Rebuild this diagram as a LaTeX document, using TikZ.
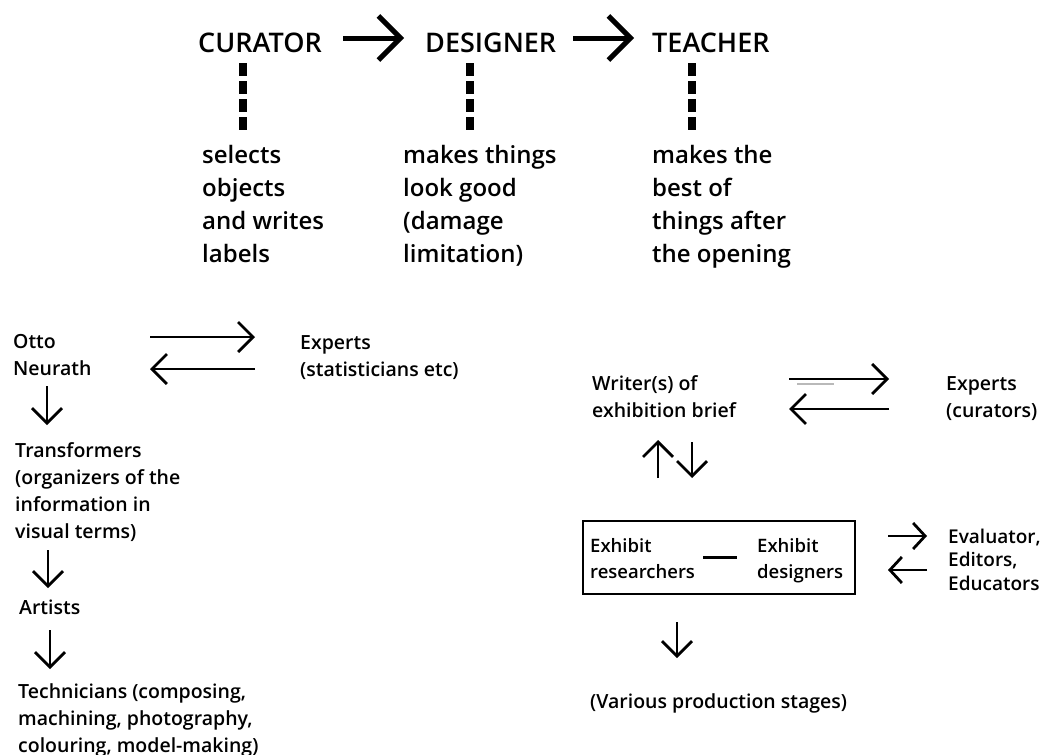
\documentclass[tikz,border=0pt]{standalone}
\usepackage{fontspec}
\setmainfont{Open Sans}
% medium-weight face for all text, with bold as a fallback
\IfFontExistsTF{Open Sans SemiBold}{\newfontfamily\semifont{Open Sans SemiBold}}{%
  \IfFontExistsTF{Open Sans Semibold}{\newfontfamily\semifont{Open Sans Semibold}}{%
    \IfFontExistsTF{OpenSans-Semibold.otf}{\newfontfamily\semifont{OpenSans-Semibold.otf}}{%
      \newcommand{\semifont}{\bfseries}}}}
\usetikzlibrary{arrows.meta}

% first line of a text block sits 1em below the node's top edge
\newcommand{\firstline}{\rule{0pt}{1em}}

\begin{document}
\begin{tikzpicture}[x=1pt, y=-1pt,
  role/.style={inner sep=0pt, anchor=base west, font=\semifont\fontsize{27}{32}\selectfont},
  duty/.style={inner sep=0pt, anchor=north west, align=left, font=\semifont\fontsize{24}{33}\selectfont},
  body/.style={inner sep=0pt, anchor=north west, align=left, font=\semifont\fontsize{19.5}{27}\selectfont},
  boxtext/.style={inner sep=0pt, anchor=north west, align=left, font=\semifont\fontsize{18.5}{26}\selectfont},
  listtext/.style={inner sep=0pt, anchor=north west, align=left, font=\semifont\fontsize{19}{23.5}\selectfont},
  bigarrow/.style={line width=5pt, -{Straight Barb[length=22pt, width=44pt, line width=5pt]}},
  flow/.style={line width=2.8pt, -{Straight Barb[length=15pt, width=30pt, line width=2.8pt]}},
  smallflow/.style={line width=2.8pt, -{Straight Barb[length=12pt, width=26pt, line width=2.8pt]}},
  tie/.style={line width=8pt, dash pattern=on 13pt off 5pt},
]
\useasboundingbox (0,0) rectangle (1042,755);

% ---- the three roles ----
\node[role] (cur) at (198,52) {CURATOR};
\node[role] (des) at (425,52) {DESIGNER};
\node[role] (tea) at (652,52) {TEACHER};

\coordinate (a1s) at (343,38); \coordinate (a1e) at (404,38);
\coordinate (a2s) at (573,38); \coordinate (a2e) at (634,38);
\draw[bigarrow] (a1s) -- (a1e);
\draw[bigarrow] (a2s) -- (a2e);

\coordinate (t1a) at (243,63); \coordinate (t1b) at (243,130);
\coordinate (t2a) at (470,63); \coordinate (t2b) at (470,130);
\coordinate (t3a) at (692,63); \coordinate (t3b) at (692,130);
\draw[tie] (t1a) -- (t1b);
\draw[tie] (t2a) -- (t2b);
\draw[tie] (t3a) -- (t3b);

\node[duty] (dcur) at (202,139) {\firstline selects\\objects\\and writes\\labels};
\node[duty] (ddes) at (403,139) {\firstline makes things\\look good\\(damage\\limitation)};
\node[duty] (dtea) at (652,139) {\firstline makes the\\best of\\things after\\the opening};

% ---- Neurath's chain ----
\node[body] (otto)  at (13,328.5)  {\firstline Otto\\Neurath};
\node[body] (exp1)  at (300,329.5) {\firstline Experts\\(statisticians etc)};
\node[body] (trans) at (15,437.5)  {\firstline Transformers\\(organizers of the\\information in\\visual terms)};
\node[body] (art)   at (19,594.5)  {\firstline Artists};
\node[body] (tech)  at (18,678.5)  {\firstline Technicians (composing,\\machining, photography,\\colouring, model-making)};

\coordinate (o1) at (150,337); \coordinate (e1) at (255,337);
\coordinate (o2) at (150,369); \coordinate (e2) at (255,369);
\draw[flow] (o1) -- (e1);
\draw[flow] (e2) -- (o2);

\coordinate (n1a) at (47,386); \coordinate (n1b) at (47,425);
\coordinate (n2a) at (48,550); \coordinate (n2b) at (48,588);
\coordinate (n3a) at (50,630); \coordinate (n3b) at (50,669);
\draw[flow] (n1a) -- (n1b);
\draw[flow] (n2a) -- (n2b);
\draw[flow] (n3a) -- (n3b);

% ---- exhibition team ----
\node[body] (writer) at (592,370.5) {\firstline Writer(s) of\\exhibition brief};
\node[body] (exp2)   at (946,370.5) {\firstline Experts\\(curators)};

\coordinate (w1) at (789,379); \coordinate (x1) at (889,379);
\coordinate (w2) at (789,409); \coordinate (x2) at (889,409);
\draw[gray!55, line width=2.5pt] (797,384) -- (834,384);
\draw[flow] (w1) -- (x1);
\draw[flow] (x2) -- (w2);

\coordinate (u1) at (658,478); \coordinate (u2) at (658,440);
\coordinate (v1) at (692,442); \coordinate (v2) at (692,478);
\draw[flow] (u1) -- (u2);
\draw[flow] (v1) -- (v2);

\node[draw, line width=1.8pt, minimum width=272pt, minimum height=73pt, inner sep=0pt]
  (team) at (719,557.5) {};
\node[boxtext] (res) at (590,533.5) {\firstline Exhibit\\researchers};
\node[boxtext] (dsg) at (757,533.5) {\firstline Exhibit\\designers};
\coordinate (r1) at (703,557); \coordinate (r2) at (737,557);
\draw[line width=3pt] (r1) -- (r2);

\node[listtext] (eval) at (948,524) {\firstline Evaluator,\\Editors,\\Educators};
\coordinate (b1) at (888,536); \coordinate (f1) at (927,536);
\coordinate (b2) at (888,570); \coordinate (f2) at (927,570);
\draw[smallflow] (b1) -- (f1);
\draw[smallflow] (f2) -- (b2);

\coordinate (p1) at (677,622); \coordinate (p2) at (677,658);
\draw[flow] (p1) -- (p2);
\node[body] (prod) at (590,688.5) {\firstline (Various production stages)};
\end{tikzpicture}
\end{document}
